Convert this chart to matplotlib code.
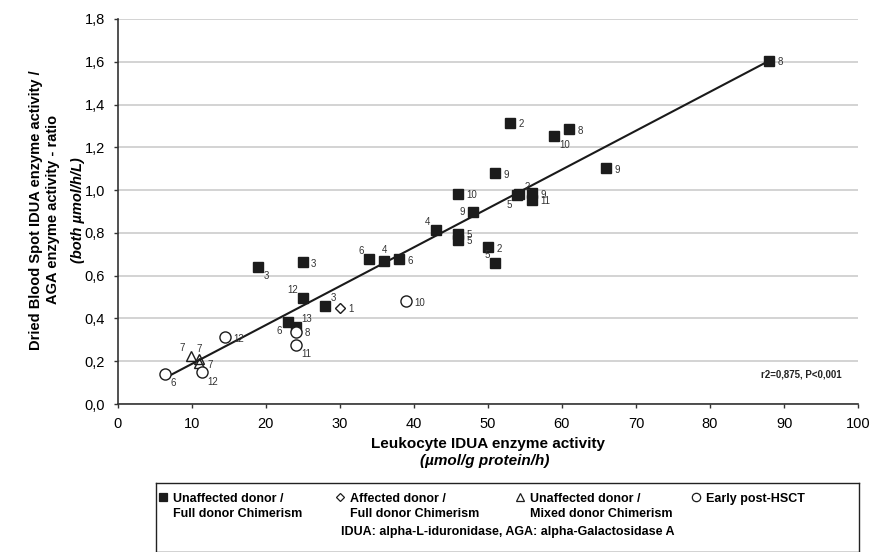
import matplotlib.pyplot as plt
from matplotlib.ticker import FuncFormatter
import numpy as np

plt.rcParams['font.family'] = ['Liberation Sans', 'DejaVu Sans']

# unaffected donor / full donor chimerism
sq_x = [88, 53, 61, 58.9, 66, 51, 46, 54, 54.2, 56, 56, 48, 43, 46, 46, 50, 51, 38, 36, 34, 25, 19, 25.1, 28, 23, 24.1]
sq_y = [1.605, 1.315, 1.284, 1.253, 1.102, 1.079, 0.982, 0.975, 0.98, 0.985, 0.954, 0.896, 0.813, 0.795,
        0.767, 0.732, 0.661, 0.676, 0.670, 0.678, 0.662, 0.639, 0.497, 0.458, 0.383, 0.361]
sq_lab = ['8', '2', '8', '10', '9', '9', '10', '5', '2', '9', '11', '9', '4', '5', '5', '2', '5', '6', '4', '6',
          '3', '3', '12', '3', '6', '13']
sq_pos = ['r', 'r', 'r', 'br', 'r', 'r', 'r', 'bl', 'tr', 'r', 'r', 'l', 'tl', 'r', 'r', 'r', 'tl', 'r', 't', 'tl',
          'r', 'br', 'tl', 'tr', 'bl', 'tr']

# affected donor / full donor chimerism
dia_x = [30]
dia_y = [0.45]
dia_lab = ['1']
dia_pos = ['r']

# unaffected donor / mixed donor chimerism
tri_x = [9.9, 11, 11]
tri_y = [0.224, 0.21, 0.19]
tri_lab = ['7', '7', '7']
tri_pos = ['tl', 't', 'r']

# early post-HSCT
cir_x = [38.9, 14.5, 24.1, 24.1, 6.45, 11.4]
cir_y = [0.48, 0.312, 0.337, 0.277, 0.139, 0.148]
cir_lab = ['10', '12', '8', '11', '6', '12']
cir_pos = ['r', 'r', 'r', 'br', 'br', 'br']

# regression line ends
fit_x = [6.6, 88]
fit_y = [0.125, 1.605]

offsets = {'r': ((6, -1), 'left', 'center'),
           'l': ((-6, 0), 'right', 'center'),
           'br': ((4, -3), 'left', 'top'),
           'bl': ((-4, -3), 'right', 'top'),
           'tr': ((4, 2), 'left', 'bottom'),
           'tl': ((-4, 2), 'right', 'bottom'),
           't': ((0, 4), 'center', 'bottom')}

fig = plt.figure(figsize=(8.73, 5.52), dpi=100)
ax = fig.add_axes([0.1346, 0.2681, 0.8484, 0.6975])

ax.plot(fit_x, fit_y, color='#1a1a1a', lw=1.5, zorder=2)
ax.plot(sq_x, sq_y, 's', ms=7.5, mfc='#1c1c1c', mec='#1c1c1c', ls='none', zorder=3)
ax.plot(dia_x, dia_y, 'D', ms=5.5, mfc='white', mec='#1c1c1c', mew=1, ls='none', zorder=3)
ax.plot(tri_x, tri_y, '^', ms=7, mfc='none', mec='#1c1c1c', mew=1, ls='none', zorder=3)
ax.plot(cir_x, cir_y, 'o', ms=8, mfc='white', mec='#1c1c1c', mew=1, ls='none', zorder=3)

def put_labels(xs, ys, labs, poss):
    for x, y, t, p in zip(xs, ys, labs, poss):
        (dx, dy), ha, va = offsets[p]
        ax.annotate(t, (x, y), xytext=(dx, dy), textcoords='offset points',
                    ha=ha, va=va, fontsize=7, color='#333333', zorder=4)

put_labels(sq_x, sq_y, sq_lab, sq_pos)
put_labels(dia_x, dia_y, dia_lab, dia_pos)
put_labels(tri_x, tri_y, tri_lab, tri_pos)
put_labels(cir_x, cir_y, cir_lab, cir_pos)

ax.text(97.8, 0.14, 'r2=0,875, P<0,001', ha='right', va='center', fontsize=7, fontweight='bold', color='#222222')

ax.set_xlim(0, 100)
ax.set_ylim(0, 1.8)
ax.set_xticks(np.arange(0, 101, 10))
ax.set_yticks(np.arange(0, 1.81, 0.2))
ax.yaxis.set_major_formatter(FuncFormatter(lambda v, p: ('%.1f' % v).replace('.', ',')))
ax.grid(axis='y', color='#cccccc', lw=1.2)
ax.set_axisbelow(True)
for s in ['top', 'right']:
    ax.spines[s].set_visible(False)
for s in ['left', 'bottom']:
    ax.spines[s].set_color('#333333')
    ax.spines[s].set_linewidth(1.2)
ax.tick_params(direction='out', length=3, width=1, color='#333333', labelsize=10.5, pad=6)

ax.set_xlabel('Leukocyte IDUA enzyme activity', fontsize=11, fontweight='bold', labelpad=5)
fig.text(0.5554, 0.165, '(µmol/g protein/h)', ha='center', va='center', fontsize=11,
         fontweight='bold', style='italic')
fig.text(0.051, 0.62, 'Dried Blood Spot IDUA enzyme activity /\nAGA enzyme activity - ratio',
         ha='center', va='center', rotation=90, fontsize=10.5, fontweight='bold', linespacing=1.25)
fig.text(0.089, 0.62, '(both µmol/h/L)', ha='center', va='center', rotation=90,
         fontsize=10.5, fontweight='bold', style='italic')

# legend box
leg = fig.add_axes([0.179, 0.0, 0.805, 0.125])
leg.set_xlim(0, 1)
leg.set_ylim(0, 1)
leg.set_xticks([])
leg.set_yticks([])
for s in leg.spines.values():
    s.set_color('#222222')
    s.set_linewidth(1)
leg_items = [('s', 'Unaffected donor /\nFull donor Chimerism', 'full'),
             ('D', 'Affected donor /\nFull donor Chimerism', 'none'),
             ('^', 'Unaffected donor /\nMixed donor Chimerism', 'none'),
             ('o', 'Early post-HSCT', 'none')]
leg_x = [0.0, 0.252, 0.508, 0.758]
for (m, txt, fill), lx in zip(leg_items, leg_x):
    leg.plot(lx + 0.01, 0.795, m, ms=6 if m != 'D' else 4.5, mfc='#1c1c1c' if fill == 'full' else 'white',
             mec='#1c1c1c', mew=0.9)
    leg.text(lx + 0.024, 0.86, txt, ha='left', va='top', fontsize=9, fontweight='bold',
             linespacing=1.35)
leg.text(0.5, 0.29, 'IDUA: alpha-L-iduronidase, AGA: alpha-Galactosidase A', ha='center', va='center',
         fontsize=9, fontweight='bold')

fig.savefig('out.png', dpi=100)
